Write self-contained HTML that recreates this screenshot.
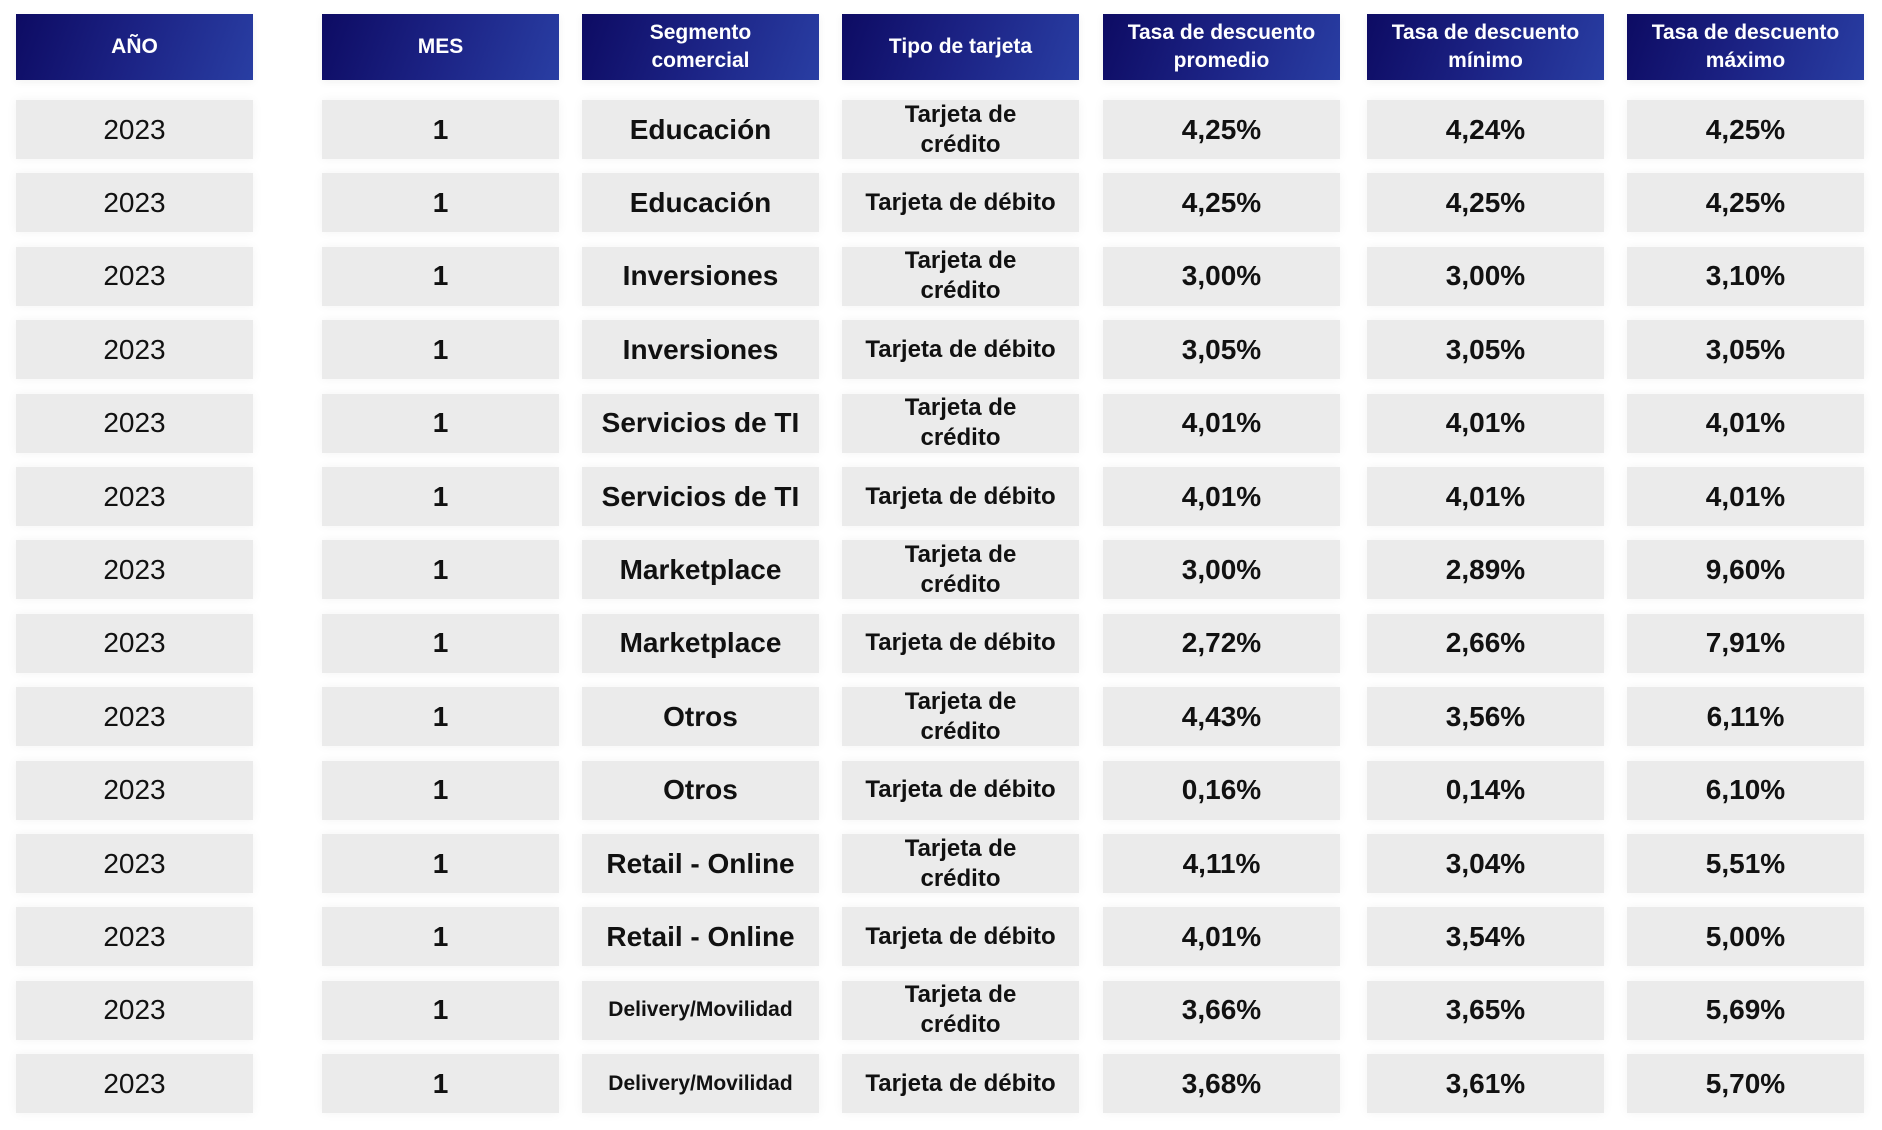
<!DOCTYPE html>
<html><head><meta charset="utf-8"><style>
body{margin:0;width:1882px;height:1130px;background:#fff;font-family:"Liberation Sans",Arial,sans-serif;position:relative;overflow:hidden}
.c{position:absolute;display:flex;align-items:center;justify-content:center;text-align:center;box-sizing:border-box}
.h{background:linear-gradient(110deg,#0d0b63 0%,#1c2385 50%,#293ea3 100%);color:#fff;font-weight:bold;font-size:21px;line-height:28px;box-shadow:0 2px 8px rgba(0,0,0,.06)}
.d{background:#ebebeb;color:#111;font-weight:bold;font-size:28px;box-shadow:0 0 10px rgba(0,0,0,.05)}
.t{font-size:24px;line-height:30px}
.s{font-size:21px}
.y{font-weight:normal}
</style></head><body>
<div id="root"></div>
<script>
const years=[2023,2023,2023,2023,2023,2023,2023,2023,2023,2023,2023,2023,2023,2023];
const months=[1,1,1,1,1,1,1,1,1,1,1,1,1,1];
const segments=["Educación","Educación","Inversiones","Inversiones","Servicios de TI","Servicios de TI","Marketplace","Marketplace","Otros","Otros","Retail - Online","Retail - Online","Delivery/Movilidad","Delivery/Movilidad"];
const cardTypes=["Tarjeta de<br>crédito","Tarjeta de débito","Tarjeta de<br>crédito","Tarjeta de débito","Tarjeta de<br>crédito","Tarjeta de débito","Tarjeta de<br>crédito","Tarjeta de débito","Tarjeta de<br>crédito","Tarjeta de débito","Tarjeta de<br>crédito","Tarjeta de débito","Tarjeta de<br>crédito","Tarjeta de débito"];
const avgRate=["4,25%","4,25%","3,00%","3,05%","4,01%","4,01%","3,00%","2,72%","4,43%","0,16%","4,11%","4,01%","3,66%","3,68%"];
const minRate=["4,24%","4,25%","3,00%","3,05%","4,01%","4,01%","2,89%","2,66%","3,56%","0,14%","3,04%","3,54%","3,65%","3,61%"];
const maxRate=["4,25%","4,25%","3,10%","3,05%","4,01%","4,01%","9,60%","7,91%","6,11%","6,10%","5,51%","5,00%","5,69%","5,70%"];
const headers=["AÑO","MES","Segmento<br>comercial","Tipo de tarjeta","Tasa de descuento<br>promedio","Tasa de descuento<br>mínimo","Tasa de descuento<br>máximo"];
const colX=[16,322,582,842,1103,1367,1627];
const W=237;
const root=document.getElementById('root');
const names=["year","month","segment","card-type","avg-rate","min-rate","max-rate"];
headers.forEach((h,i)=>{
  const e=document.createElement('div');
  e.className='c h';
  e.style.cssText=`left:${colX[i]}px;top:14px;width:${W}px;height:66px`;
  e.innerHTML=h;
  
  
  root.appendChild(e);
});
const cols=[years,months,segments,cardTypes,avgRate,minRate,maxRate];
for(let r=0;r<years.length;r++){
  cols.forEach((arr,i)=>{
    const e=document.createElement('div');
    let cls='c d';
    if(i===0)cls+=' y';
    if(i===3)cls+=' t';
    if(i===2&&String(arr[r]).length>15)cls+=' s';
    e.className=cls;
    e.style.cssText=`left:${colX[i]}px;top:${100+r*73.4}px;width:${W}px;height:59px`;
    e.innerHTML=arr[r];
    
    
    root.appendChild(e);
  });
}
</script>
</body></html>
